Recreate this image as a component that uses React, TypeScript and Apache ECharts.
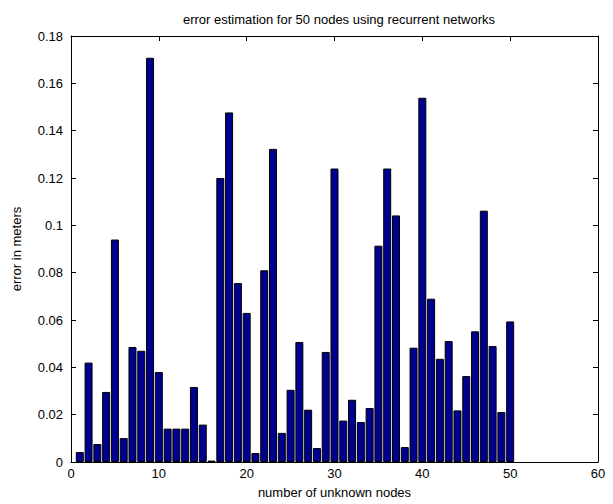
import React, { useEffect, useRef } from "react";
import * as echarts from "echarts";

const nodeIds: number[] = Array.from({ length: 50 }, (_, i) => i + 1);
const errorValues: number[] = [
  0.0042, 0.042, 0.0076, 0.0296, 0.094, 0.0101, 0.0486, 0.047, 0.1708, 0.038,
  0.0141, 0.0141, 0.0141, 0.0317, 0.0158, 0.0006, 0.12, 0.1477, 0.0756, 0.063,
  0.0038, 0.081, 0.1323, 0.0123, 0.0305, 0.0507, 0.0221, 0.0059, 0.0465, 0.124,
  0.0175, 0.0263, 0.0169, 0.0228, 0.0914, 0.124, 0.1042, 0.0063, 0.0483, 0.1539,
  0.069, 0.0436, 0.0511, 0.0218, 0.0363, 0.0552, 0.1062, 0.049, 0.0211, 0.0594,
];
const titleText = "error estimation for 50 nodes using recurrent networks";
const xAxisName = "number of unknown nodes";
const yAxisName = "error in meters";

export default function App() {
  const ref = useRef<HTMLDivElement>(null);
  useEffect(() => {
    if (!ref.current) return;
    const chart = echarts.init(ref.current, undefined, { renderer: "svg" });
    const font = "Liberation Sans";
    const tickStyle = { show: true, inside: true, length: 5, lineStyle: { color: "#000", width: 1 } };
    const lineStyle = { lineStyle: { color: "#000", width: 1 } };
    chart.setOption({
      animation: false,
      backgroundColor: "#fff",
      title: {
        text: titleText,
        left: 334,
        textAlign: "center",
        top: 8,
        textStyle: { fontFamily: font, fontSize: 13, fontWeight: "normal", color: "#000" },
      },
      grid: { left: 71, right: 15, top: 36, bottom: 42, show: false },
      xAxis: [
        {
          type: "value",
          min: 0,
          max: 60,
          interval: 10,
          position: "bottom",
          name: xAxisName,
          nameLocation: "middle",
          nameGap: 24,
          nameTextStyle: { fontFamily: font, fontSize: 13, color: "#000" },
          axisLine: { show: true, onZero: false, ...lineStyle },
          axisTick: tickStyle,
          axisLabel: { fontFamily: font, fontSize: 13, color: "#000", margin: 5 },
          splitLine: { show: false },
        },
        {
          type: "value",
          min: 0,
          max: 60,
          interval: 10,
          position: "top",
          axisLine: { show: true, onZero: false, ...lineStyle },
          axisTick: tickStyle,
          axisLabel: { show: false },
          splitLine: { show: false },
        },
      ],
      yAxis: [
        {
          type: "value",
          min: 0,
          max: 0.18,
          interval: 0.02,
          position: "left",
          name: yAxisName,
          nameLocation: "middle",
          nameGap: 48,
          nameRotate: 90,
          nameTextStyle: { fontFamily: font, fontSize: 13, color: "#000" },
          axisLine: { show: true, onZero: false, ...lineStyle },
          axisTick: tickStyle,
          axisLabel: {
            fontFamily: font,
            fontSize: 13,
            color: "#000",
            margin: 8,
            formatter: (v: number) => (v === 0 ? "0" : String(parseFloat(v.toFixed(2)))),
          },
          splitLine: { show: false },
        },
        {
          type: "value",
          min: 0,
          max: 0.18,
          interval: 0.02,
          position: "right",
          axisLine: { show: true, onZero: false, ...lineStyle },
          axisTick: tickStyle,
          axisLabel: { show: false },
          splitLine: { show: false },
        },
      ],
      series: [
        {
          type: "bar",
          xAxisIndex: 0,
          yAxisIndex: 0,
          barWidth: 8,
          data: nodeIds.map((id, i) => [id, errorValues[i]]),
          itemStyle: { color: "#00008F", borderColor: "#000", borderWidth: 1 },
        },
      ],
    });
    return () => chart.dispose();
  }, []);
  return <div ref={ref} style={{ width: 613, height: 504, position: "absolute", left: 0, top: 0 }} />;
}
